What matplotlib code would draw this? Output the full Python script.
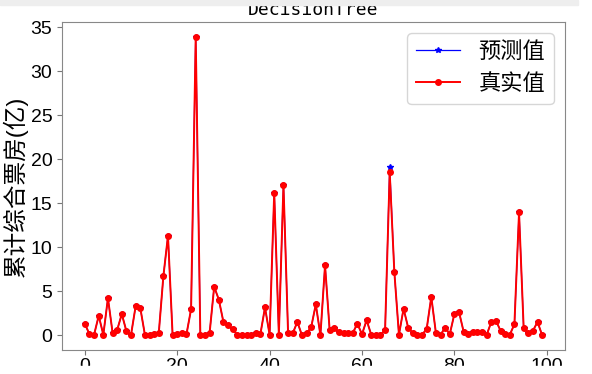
import matplotlib.pyplot as plt
from matplotlib.patches import Rectangle

plt.rcParams['font.family'] = ['Liberation Sans', 'Noto Sans CJK SC']
plt.rcParams['axes.unicode_minus'] = False

# 真实值 (累计综合票房, 亿)
y_true = [1.3, 0.1, 0.05, 2.2, 0.05, 4.2, 0.3, 0.6, 2.4, 0.45,
          0.05, 3.3, 3.1, 0.05, 0.05, 0.1, 0.2, 6.7, 11.3, 0.0,
          0.1, 0.25, 0.1, 2.95, 33.9, 0.05, 0.05, 0.2, 5.5, 4.05,
          1.5, 1.2, 0.65, 0.05, 0.05, 0.05, 0.05, 0.2, 0.1, 3.15,
          0.05, 16.2, 0.05, 17.1, 0.2, 0.2, 1.5, 0.0, 0.2, 0.9,
          3.5, 0.0, 7.95, 0.55, 0.85, 0.35, 0.25, 0.25, 0.25, 1.3,
          0.1, 1.7, 0.05, 0.05, 0.05, 0.55, 18.5, 7.2, 0.05, 3.0,
          0.85, 0.25, 0.05, 0.05, 0.7, 4.35, 0.25, 0.05, 0.85, 0.1,
          2.4, 2.65, 0.4, 0.1, 0.4, 0.35, 0.35, 0.05, 1.5, 1.65,
          0.5, 0.1, 0.05, 1.25, 13.95, 0.8, 0.25, 0.5, 1.5, 0.0]

# 预测值 (决策树)
y_pred = list(y_true)
y_pred[66] = 19.1

x = list(range(len(y_true)))

fig = plt.figure(figsize=(5.92, 3.74), dpi=100)
ax = fig.add_axes([0.1047, 0.064, 0.8497, 0.877])

ax.plot(x, y_pred, color='blue', marker='*', markersize=4, linewidth=0.9, label='预测值')
ax.plot(x, y_true, color='red', marker='o', markersize=4, linewidth=1.4, label='真实值')

ax.set_title('DecisionTree', fontsize=13, family='DejaVu Sans Mono', pad=5)
ax.set_ylabel('累计综合票房(亿)', fontsize=17, labelpad=2)
ax.tick_params(labelsize=14, color='#777777')
ax.tick_params(axis='x', pad=2)
for s in ax.spines.values():
    s.set_color('#888888')
ax.set_yticks([0, 5, 10, 15, 20, 25, 30, 35])
ax.legend(loc='upper right', fontsize=16)

# 截图边缘: 顶部灰条, 底部白条
fig.patches.append(Rectangle((0, 0.987), 0.977, 0.013, transform=fig.transFigure,
                             color='#eeeeee', zorder=10))
fig.patches.append(Rectangle((0, 0), 1, 0.021, transform=fig.transFigure,
                             color='white', zorder=10))

fig.savefig('out.png', dpi=100)
